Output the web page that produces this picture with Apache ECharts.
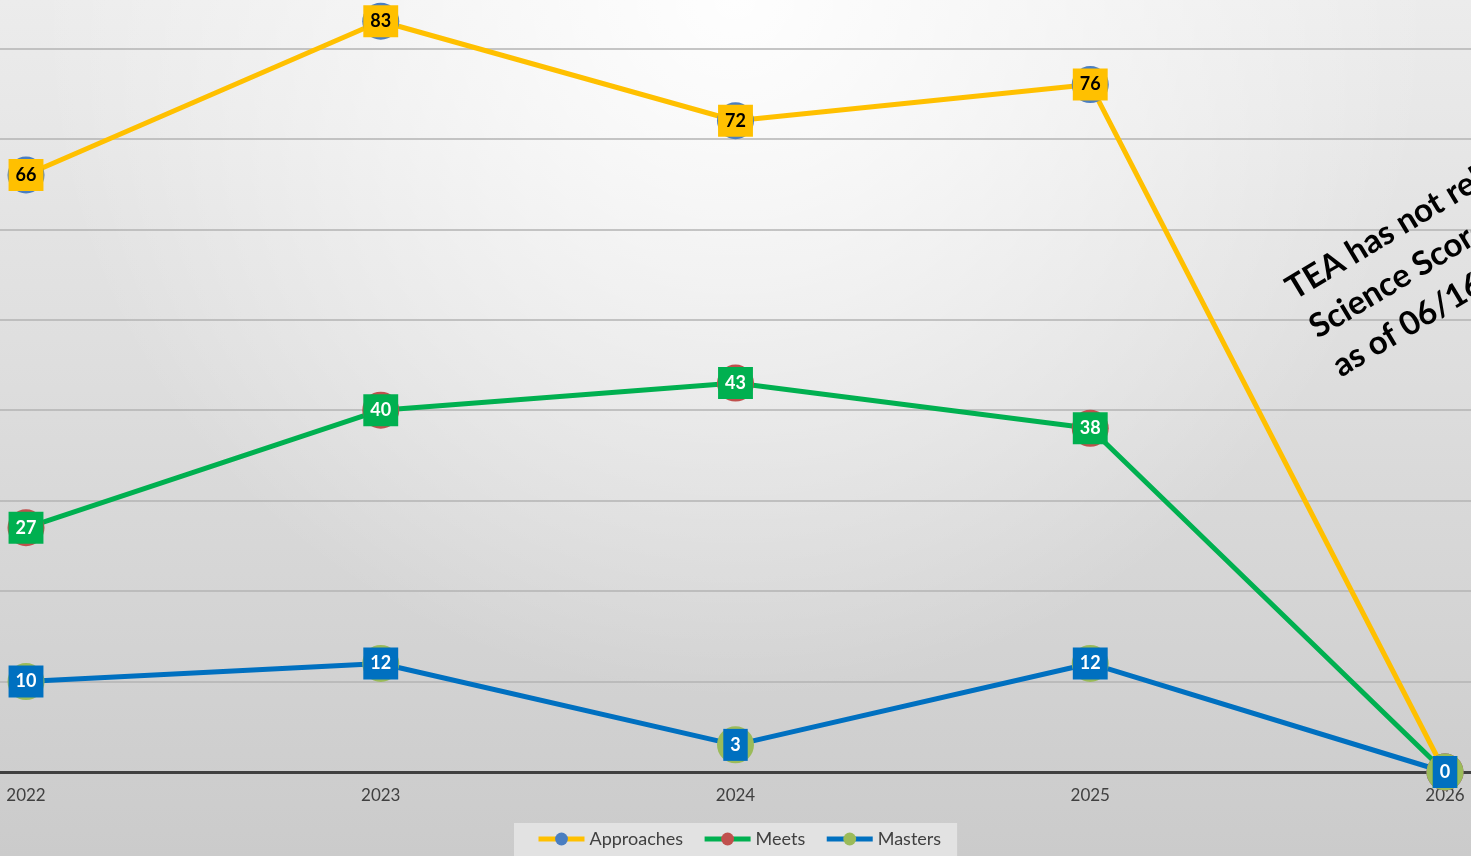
<!DOCTYPE html>
<html>
<head>
<meta charset="utf-8">
<script src="https://cdn.jsdelivr.net/npm/echarts@6/dist/echarts.min.js"></script>
<style>
  html, body { margin: 0; padding: 0; }
  #chart { width: 1471px; height: 856px; }
</style>
</head>
<body>
<div id="chart"></div>
<script>
// values
const years = [2022, 2023, 2024, 2025, 2026]
const approaches = [66, 83, 72, 76, 0]
const meets = [27, 40, 43, 38, 0]
const masters = [10, 12, 3, 12, 0]

const FONT = 'Lato, "Open Sans", sans-serif'

function makeSeries(name, values, lineColor, markerColor, textColor) {
  return {
    name,
    type: 'line',
    data: values.map((v, i) => [years[i], v]),
    symbol: 'circle',
    symbolSize: 37,
    lineStyle: { color: lineColor, width: 5 },
    itemStyle: { color: markerColor },
    label: {
      show: true,
      position: 'inside',
      formatter: (p) => p.value[1],
      fontFamily: FONT,
      fontWeight: 'bold',
      fontSize: 18,
      color: textColor,
      backgroundColor: lineColor,
      padding: [6, 7, 6, 7],
      lineHeight: 20
    },
    emphasis: { disabled: true }
  }
}

const chart = echarts.init(document.getElementById('chart'))

chart.setOption({
  animation: false,
  backgroundColor: {
    type: 'linear', x: 0, y: 0, x2: 0, y2: 1,
    colorStops: [
      { offset: 0, color: '#ececec' },
      { offset: 1, color: '#cbcbcb' }
    ]
  },
  graphic: [
    {
      type: 'rect',
      z: -10,
      silent: true,
      shape: { x: 0, y: 0, width: 1471, height: 856 },
      style: {
        fill: {
          type: 'radial', x: 735, y: 0, r: 700, global: true,
          colorStops: [
            { offset: 0, color: 'rgba(255,255,255,0.95)' },
            { offset: 1, color: 'rgba(255,255,255,0)' }
          ]
        }
      }
    },
    {
      type: 'text',
      x: 1296,
      y: 303,
      rotation: 31 * Math.PI / 180,
      z: 50,
      silent: true,
      style: {
        x: 0,
        y: -36,
        text: 'TEA has not released\nScience Scores\nas of 06/16/2025',
        fontFamily: FONT,
        fontWeight: 'bold',
        fontSize: 33,
        lineHeight: 45,
        fill: '#000000',
        textAlign: 'left',
        textVerticalAlign: 'top'
      }
    }
  ],
  grid: {
    left: 0,
    right: 0,
    top: 0,
    bottom: 84
  },
  legend: {
    left: 514,
    top: 823,
    padding: [7, 16, 12, 22],
    backgroundColor: '#e2e2e2',
    itemWidth: 46,
    itemHeight: 16,
    itemGap: 19,
    lineStyle: { width: 5 },
    textStyle: { fontFamily: FONT, fontSize: 18, color: '#404040' },
    data: ['Approaches', 'Meets', 'Masters']
  },
  xAxis: {
    type: 'value',
    min: 2021.9267,
    max: 2026.0733,
    splitLine: { show: false },
    axisTick: { show: false },
    axisLine: { lineStyle: { color: '#404040', width: 3 } },
    axisLabel: {
      customValues: years,
      formatter: (v) => String(v),
      fontFamily: FONT,
      fontSize: 17,
      color: '#404040',
      margin: 15
    }
  },
  yAxis: {
    type: 'value',
    min: 0,
    max: 85.35,
    interval: 10,
    axisLine: { show: false },
    axisTick: { show: false },
    axisLabel: { show: false },
    splitLine: { showMaxLine: false, lineStyle: { color: '#b3b3b3', width: 1.5 } }
  },
  series: [
    makeSeries('Approaches', approaches, '#FFC000', '#4A7EC1', '#000000'),
    makeSeries('Meets', meets, '#00B050', '#C0504D', '#ffffff'),
    makeSeries('Masters', masters, '#0070C0', '#9BBB59', '#ffffff')
  ]
})
</script>
</body>
</html>
